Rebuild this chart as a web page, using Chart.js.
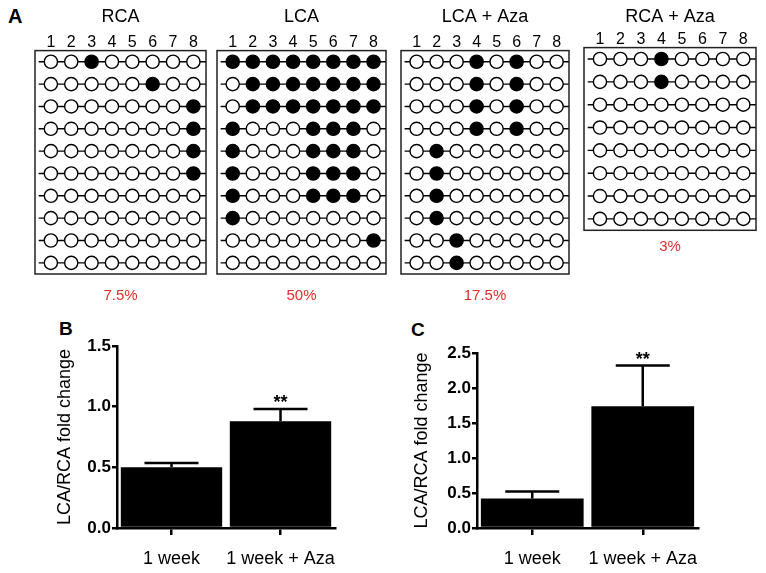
<!DOCTYPE html>
<html>
<head>
<meta charset="utf-8">
<script src="https://cdn.jsdelivr.net/npm/chart.js@4.4.1/dist/chart.umd.min.js"></script>
<style>
  body { margin: 0; background: #fff; }
  #fig { position: relative; width: 766px; height: 573px; overflow: hidden; font-family: 'Liberation Sans', Arial, sans-serif; }
  #fig canvas { position: absolute; }
  .panel { position: absolute; font-weight: bold; color: #000; }
</style>
</head>
<body>
<div id="fig">
  <div class="panel" style="left:8px;top:6px;font-size:20px;line-height:20px;">A</div>
  <div class="panel" style="left:59px;top:319px;font-size:19px;line-height:19px;">B</div>
  <div class="panel" style="left:411px;top:320px;font-size:19px;line-height:19px;">C</div>
  <canvas id="gRca" width="175" height="309" style="left:33px;top:0px;"></canvas>
  <canvas id="gLca" width="173" height="309" style="left:215px;top:0px;"></canvas>
  <canvas id="gLcaAza" width="172" height="309" style="left:399px;top:0px;"></canvas>
  <canvas id="gRcaAza" width="176" height="260" style="left:582px;top:0px;"></canvas>
  <canvas id="barB" width="360" height="273" style="left:0px;top:300px;"></canvas>
  <canvas id="barC" width="386" height="273" style="left:380px;top:300px;"></canvas>
</div>
<script>
// CpG sites and methylation state per clone (1 = methylated)
const sites = [1, 2, 3, 4, 5, 6, 7, 8];
const rcaRows = [
    [0, 0, 1, 0, 0, 0, 0, 0],
    [0, 0, 0, 0, 0, 1, 0, 0],
    [0, 0, 0, 0, 0, 0, 0, 1],
    [0, 0, 0, 0, 0, 0, 0, 1],
    [0, 0, 0, 0, 0, 0, 0, 1],
    [0, 0, 0, 0, 0, 0, 0, 1],
    [0, 0, 0, 0, 0, 0, 0, 0],
    [0, 0, 0, 0, 0, 0, 0, 0],
    [0, 0, 0, 0, 0, 0, 0, 0],
    [0, 0, 0, 0, 0, 0, 0, 0]
];
const lcaRows = [
    [1, 1, 1, 1, 1, 1, 1, 1],
    [0, 1, 1, 1, 1, 1, 1, 1],
    [0, 1, 1, 1, 1, 1, 1, 1],
    [1, 0, 0, 0, 1, 1, 1, 0],
    [1, 0, 0, 0, 1, 1, 1, 0],
    [1, 0, 0, 0, 1, 1, 1, 0],
    [1, 0, 0, 0, 1, 1, 1, 0],
    [1, 0, 0, 0, 0, 0, 0, 0],
    [0, 0, 0, 0, 0, 0, 0, 1],
    [0, 0, 0, 0, 0, 0, 0, 0]
];
const lcaAzaRows = [
    [0, 0, 0, 1, 0, 1, 0, 0],
    [0, 0, 0, 1, 0, 1, 0, 0],
    [0, 0, 0, 1, 0, 1, 0, 0],
    [0, 0, 0, 1, 0, 1, 0, 0],
    [0, 1, 0, 0, 0, 0, 0, 0],
    [0, 1, 0, 0, 0, 0, 0, 0],
    [0, 1, 0, 0, 0, 0, 0, 0],
    [0, 1, 0, 0, 0, 0, 0, 0],
    [0, 0, 1, 0, 0, 0, 0, 0],
    [0, 0, 1, 0, 0, 0, 0, 0]
];
const rcaAzaRows = [
    [0, 0, 0, 1, 0, 0, 0, 0],
    [0, 0, 0, 1, 0, 0, 0, 0],
    [0, 0, 0, 0, 0, 0, 0, 0],
    [0, 0, 0, 0, 0, 0, 0, 0],
    [0, 0, 0, 0, 0, 0, 0, 0],
    [0, 0, 0, 0, 0, 0, 0, 0],
    [0, 0, 0, 0, 0, 0, 0, 0],
    [0, 0, 0, 0, 0, 0, 0, 0]
];
const gridTitles = ['RCA', 'LCA', 'LCA + Aza', 'RCA + Aza'];
const gridPercents = ['7.5%', '50%', '17.5%', '3%'];

// Bar panels B and C
const groups = ['1 week', '1 week + Aza'];
const meanB = [0.50, 0.88];
const errB = [0.035, 0.10];
const sigB = ['', '**'];
const meanC = [0.42, 1.74];
const errC = [0.10, 0.58];
const sigC = ['', '**'];

Chart.defaults.font.family = "'Liberation Sans', Arial, sans-serif";
Chart.defaults.color = '#000';

// box around each clone grid
const gridBox = {
    id: 'gridBox',
    afterDatasetsDraw(chart) {
        const { ctx, chartArea: a } = chart;
        ctx.save();
        ctx.strokeStyle = '#222';
        ctx.lineWidth = 1.5;
        ctx.strokeRect(a.left, a.top, a.right - a.left, a.bottom - a.top);
        ctx.restore();
    }
};

function gridChart(id, title, rows, pct, pad) {
    const datasets = rows.map((row, r) => ({
        // line stubs past first and last site, then the sites
        data: [{ x: 0.4, y: r + 1 }]
            .concat(row.map((m, c) => ({ x: sites[c], y: r + 1 })))
            .concat([{ x: 8.62, y: r + 1 }]),
        showLine: true,
        borderColor: '#000',
        borderWidth: 1.4,
        pointRadius: ctx => (ctx.dataIndex === 0 || ctx.dataIndex === row.length + 1) ? 0 : 6.6,
        pointBackgroundColor: ctx => row[ctx.dataIndex - 1] ? '#000' : '#fff',
        pointBorderColor: '#000',
        pointBorderWidth: 1.4
    }));

    return new Chart(document.getElementById(id), {
        type: 'scatter',
        data: { datasets },
        options: {
            responsive: false,
            animation: false,
            events: [],
            layout: { padding: { left: 2, right: 2, top: 0, bottom: 0 } },
            plugins: {
                legend: { display: false },
                tooltip: { enabled: false },
                title: {
                    display: true,
                    text: title,
                    font: { size: 18, weight: 'normal' },
                    color: '#000',
                    padding: { top: 6, bottom: pad.titleBottom }
                },
                subtitle: {
                    display: true,
                    text: pct,
                    position: 'bottom',
                    font: { size: 15, weight: 'normal' },
                    color: '#e42d2b',
                    padding: { top: pad.pctTop, bottom: 4 }
                }
            },
            scales: {
                x: {
                    type: 'linear',
                    position: 'top',
                    min: 0.22,
                    max: 8.62,
                    grid: { display: false, drawTicks: false },
                    border: { display: false },
                    ticks: { padding: 0, font: { size: 16, lineHeight: 1 }, color: '#000' },
                    afterBuildTicks: s => { s.ticks = sites.map(v => ({ value: v })); },
                    afterFit: s => { s.height = 16; }
                },
                y: {
                    type: 'linear',
                    display: false,
                    reverse: true,
                    min: 0.5,
                    max: rows.length + 0.5
                }
            }
        },
        plugins: [gridBox]
    });
}

gridChart('gRca', gridTitles[0], rcaRows, gridPercents[0], { titleBottom: 7, pctTop: 13 });
gridChart('gLca', gridTitles[1], lcaRows, gridPercents[1], { titleBottom: 7, pctTop: 13 });
gridChart('gLcaAza', gridTitles[2], lcaAzaRows, gridPercents[2], { titleBottom: 7, pctTop: 13 });
gridChart('gRcaAza', gridTitles[3], rcaAzaRows, gridPercents[3], { titleBottom: 4, pctTop: 7.7 });

// top-only error bars plus significance stars
const errorBars = {
    id: 'errorBars',
    afterDatasetsDraw(chart, args, opts) {
        const { ctx, scales: { y } } = chart;
        const values = chart.data.datasets[0].data;
        chart.getDatasetMeta(0).data.forEach((bar, i) => {
            const top = y.getPixelForValue(values[i] + opts.errors[i]);
            ctx.save();
            ctx.strokeStyle = '#000';
            ctx.lineWidth = 2.5;
            ctx.beginPath();
            ctx.moveTo(bar.x, bar.y);
            ctx.lineTo(bar.x, top);
            ctx.moveTo(bar.x - 27, top);
            ctx.lineTo(bar.x + 27, top);
            ctx.stroke();
            if (opts.marks[i]) {
                ctx.fillStyle = '#000';
                ctx.font = "bold 18px 'Liberation Sans', Arial, sans-serif";
                ctx.textAlign = 'center';
                ctx.textBaseline = 'alphabetic';
                ctx.fillText(opts.marks[i], bar.x, top - 1);
            }
            ctx.restore();
        });
    }
};

function barChart(id, means, errors, marks, yMax, pad, yWidth, titlePad) {
    return new Chart(document.getElementById(id), {
        type: 'bar',
        data: {
            labels: groups,
            datasets: [{
                data: means,
                backgroundColor: '#000',
                categoryPercentage: 0.93,
                barPercentage: 1
            }]
        },
        options: {
            responsive: false,
            animation: false,
            events: [],
            layout: { padding: pad },
            plugins: {
                legend: { display: false },
                tooltip: { enabled: false },
                errorBars: { errors, marks }
            },
            scales: {
                x: {
                    grid: { display: true, drawOnChartArea: false, offset: false, tickLength: 7, lineWidth: 2.5, color: '#000' },
                    border: { color: '#000', width: 2.5 },
                    ticks: {
                        font: { size: 18 },
                        color: '#000',
                        padding: 13,
                        maxRotation: 0,
                        minRotation: 0,
                        autoSkip: false
                    },
                    afterFit: s => { s.height = 45; }
                },
                y: {
                    min: 0,
                    max: yMax,
                    ticks: {
                        stepSize: 0.5,
                        callback: v => v.toFixed(1),
                        font: { size: 17, weight: 'bold' },
                        color: '#000',
                        padding: 1
                    },
                    grid: { drawOnChartArea: false, tickLength: 5, lineWidth: 2.5, color: '#000' },
                    border: { color: '#000', width: 2.5 },
                    title: {
                        display: true,
                        text: 'LCA/RCA fold change',
                        font: { size: 18, weight: 'normal' },
                        color: '#000',
                        padding: { top: titlePad, bottom: 0 }
                    },
                    afterFit: s => { s.width = yWidth; }
                }
            }
        },
        plugins: [errorBars]
    });
}

barChart('barB', meanB, errB, sigB, 1.5, { left: 44, right: 25, top: 46, bottom: 0 }, 73, 10);
barChart('barC', meanC, errC, sigC, 2.5, { left: 20, right: 68, top: 53, bottom: 0 }, 77, 11);
</script>
</body>
</html>
